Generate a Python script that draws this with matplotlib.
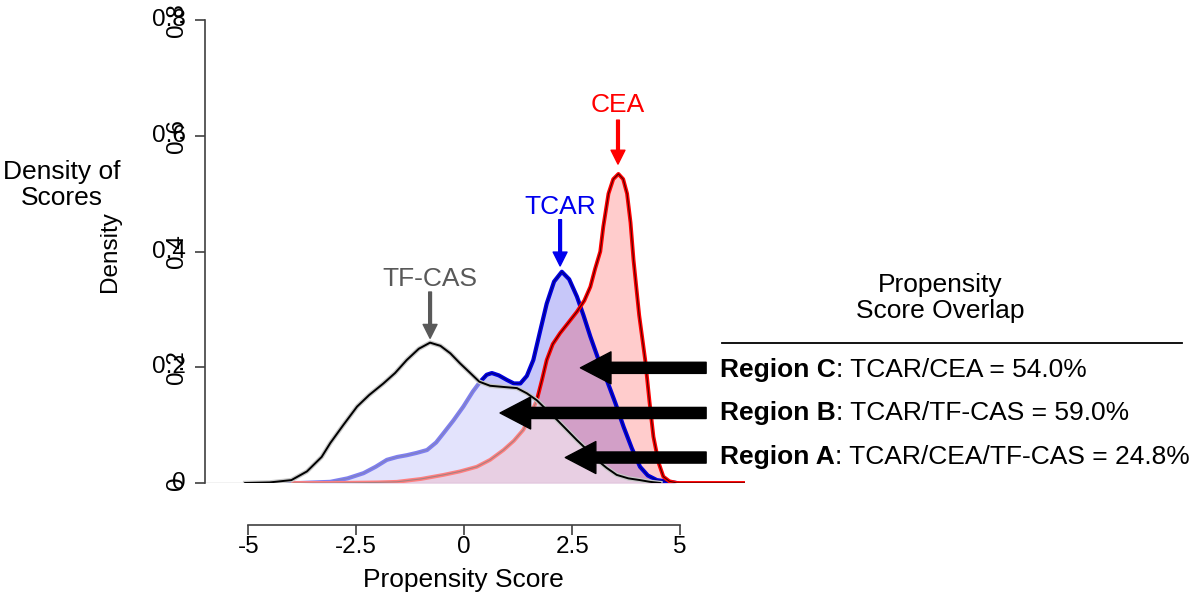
import matplotlib
matplotlib.use("Agg")
import matplotlib.pyplot as plt

plt.rcParams['font.family'] = ['Liberation Sans', 'DejaVu Sans']

# TF-CAS density (black)
tf_x = [-5.07, -4.5, -4.0, -3.64, -3.3, -3.1, -2.8, -2.48, -2.2, -1.87, -1.6, -1.33, -1.05,
        -0.79, -0.55, -0.32, -0.1, 0.14, 0.35, 0.6, 0.9, 1.22, 1.45, 1.68, 1.9, 2.15, 2.4,
        2.61, 2.85, 3.07, 3.3, 3.53, 3.8, 4.07, 4.3, 4.54]
tf_y = [0, 0.001, 0.005, 0.02, 0.045, 0.069, 0.1, 0.132, 0.152, 0.172, 0.19, 0.2125, 0.232,
        0.2425, 0.237, 0.224, 0.207, 0.19, 0.175, 0.168, 0.166, 0.164, 0.155, 0.143, 0.127,
        0.109, 0.09, 0.074, 0.057, 0.040, 0.026, 0.014, 0.008, 0.005, 0.002, 0]

# TCAR density (blue)
tcar_x = [-4.42, -3.8, -3.1, -2.7, -2.33, -2.05, -1.79, -1.55, -1.33, -1.1, -0.86, -0.65,
          -0.48, -0.25, -0.02, 0.2, 0.37, 0.52, 0.64, 0.8, 0.99, 1.15, 1.30, 1.45, 1.60, 1.75,
          1.91, 2.08, 2.26, 2.43, 2.61, 2.76, 2.92, 3.1, 3.30, 3.5, 3.69, 3.88, 4.07, 4.25,
          4.46, 4.92]
tcar_y = [0, 0.0, 0.002, 0.008, 0.017, 0.028, 0.040, 0.045, 0.048, 0.052, 0.057, 0.07,
          0.086, 0.108, 0.132, 0.158, 0.175, 0.187, 0.19, 0.186, 0.178, 0.172, 0.172, 0.185,
          0.2125, 0.26, 0.31, 0.348, 0.365, 0.352, 0.322, 0.29, 0.253, 0.215, 0.178, 0.138,
          0.097, 0.06, 0.028, 0.013, 0.005, 0]

# CEA density (red)
cea_x = [-3.96, -3.0, -2.0, -1.56, -1.0, -0.48, -0.1, 0.29, 0.6, 0.91, 1.15, 1.37, 1.52,
         1.68, 1.8, 1.91, 2.05, 2.22, 2.4, 2.61, 2.78, 2.92, 3.03, 3.15, 3.22, 3.34, 3.45,
         3.57, 3.68, 3.77, 3.85, 3.92, 4.05, 4.19, 4.29, 4.38, 4.5, 4.61, 4.75, 4.92, 6.5]
cea_y = [0, 0, 0.001, 0.002, 0.007, 0.014, 0.02, 0.028, 0.04, 0.057, 0.073, 0.092, 0.115,
         0.143, 0.178, 0.2125, 0.24, 0.259, 0.276, 0.296, 0.315, 0.339, 0.37, 0.40, 0.443,
         0.50, 0.525, 0.534, 0.525, 0.50, 0.45, 0.385, 0.29, 0.2125, 0.14, 0.08, 0.035,
         0.011, 0.003, 0, 0]

x_ticks = [-5, -2.5, 0, 2.5, 5]
x_tick_labels = ['-5', '-2.5', '0', '2.5', '5']
y_ticks = [0, 0.2, 0.4, 0.6, 0.8]
y_tick_labels = ['0', '0.2', '0.4', '0.6', '0.8']

regions = [('Region C', ': TCAR/CEA = 54.0%'),
           ('Region B', ': TCAR/TF-CAS = 59.0%'),
           ('Region A', ': TCAR/CEA/TF-CAS = 24.8%')]
region_tips = [(2.69, 0.199), (0.83, 0.121), (2.34, 0.044)]

FS = 19

fig = plt.figure(figsize=(11.95, 5.95), dpi=100)
ax = fig.add_axes([205 / 1195, 112 / 595, 540 / 1195, 463 / 595])
ax.set_xlim(-6, 6.5)
ax.set_ylim(0, 0.8)

ax.axhline(0, color='#c0c0c0', lw=1, zorder=0)

# fills
ax.fill_between(tcar_x, 0, tcar_y, color=(0, 0, 0.9), alpha=0.22, lw=0, zorder=1)
ax.fill_between(cea_x, 0, cea_y, color=(1, 0, 0), alpha=0.2, lw=0, zorder=2)

# curves
ax.plot(tcar_x, tcar_y, color='#0000e0', lw=3, zorder=3, solid_joinstyle='round')
ax.plot(tcar_x, tcar_y, color='#000080', lw=0.8, zorder=3, solid_joinstyle='round')
ax.plot(cea_x, cea_y, color='#ff0000', lw=2.8, zorder=4, solid_joinstyle='round')
ax.plot(cea_x, cea_y, color='#500000', lw=0.8, zorder=4, solid_joinstyle='round')

# lighten everything under the TF-CAS curve
ax.fill_between(tf_x, 0, tf_y, color='white', alpha=0.5, lw=0, zorder=5)
ax.plot(tf_x, tf_y, color='#c8c8c8', lw=3.2, zorder=6, solid_joinstyle='round')
ax.plot(tf_x, tf_y, color='black', lw=1.4, zorder=7, solid_joinstyle='round')

# axes styling (R-like)
for s in ['top', 'right']:
    ax.spines[s].set_visible(False)
ax.spines['bottom'].set_position(('outward', 30))
ax.spines['bottom'].set_bounds(-5, 5)
ax.spines['left'].set_bounds(0, 0.8)
for s in ['bottom', 'left']:
    ax.spines[s].set_color('#404040')
    ax.spines[s].set_linewidth(1.2)
ax.set_xticks(x_ticks)
ax.set_xticklabels(x_tick_labels, fontsize=17.5)
ax.set_yticks(y_ticks)
ax.set_yticklabels(y_tick_labels, fontsize=17.5, rotation=90, va='center')
ax.tick_params(axis='both', direction='out', length=7, width=1.2, color='#404040')
ax.tick_params(axis='x', pad=1)
ax.tick_params(axis='y', pad=5)
for yt, lab in zip(y_ticks, y_tick_labels):
    ax.text(-0.035, yt, lab, transform=ax.get_yaxis_transform(), ha='right', va='center',
            fontsize=17.5)

fig.text(463 / 1195, 1 - 580 / 595, 'Propensity Score', ha='center', va='center', fontsize=FS)
fig.text(110 / 1195, 1 - 252 / 595, 'Density', ha='center', va='center', rotation=90,
         fontsize=17.5)
fig.text(62 / 1195, 1 - 185 / 595, 'Density of\nScores', ha='center', va='center',
         fontsize=FS, linespacing=1.1)

# group labels with arrows
groups = [('TF-CAS', '#595959', -0.79, 0.352, 0.33, 0.25),
          ('TCAR', '#0000ee', 2.22, 0.477, 0.455, 0.375),
          ('CEA', '#ff0000', 3.56, 0.653, 0.627, 0.551)]
for name, col, gx, ty, a0, a1 in groups:
    ax.text(gx, ty, name, color=col, ha='center', va='center', fontsize=FS)
    ax.annotate('', xy=(gx, a1), xytext=(gx, a0),
                arrowprops=dict(facecolor=col, edgecolor=col, width=2, headwidth=10,
                                headlength=10, shrink=0), zorder=9)

# region arrows
for (tx, ty) in region_tips:
    ax.annotate('', xy=(tx, ty), xytext=(5.6, ty), annotation_clip=False,
                arrowprops=dict(facecolor='black', edgecolor='black', width=8,
                                headwidth=23, headlength=22, shrink=0), zorder=10)

# right-hand panel
fig.text(940 / 1195, 1 - 298 / 595, 'Propensity\nScore Overlap', ha='center', va='center',
         fontsize=FS, linespacing=1.1)
fig.add_artist(plt.Line2D([722 / 1195, 1182 / 1195], [1 - 343 / 595, 1 - 343 / 595],
                          color='black', lw=1.3))
fig.canvas.draw()
renderer = fig.canvas.get_renderer()
for (bold, rest), py in zip(regions, [370, 413, 457]):
    t = fig.text(720 / 1195, 1 - py / 595, bold, fontweight='bold', ha='left', va='center',
                 fontsize=FS)
    bb = t.get_window_extent(renderer=renderer)
    fig.text(bb.x1 / fig.bbox.width, 1 - py / 595, rest, ha='left', va='center', fontsize=FS)

fig.savefig('out.png', dpi=100)
